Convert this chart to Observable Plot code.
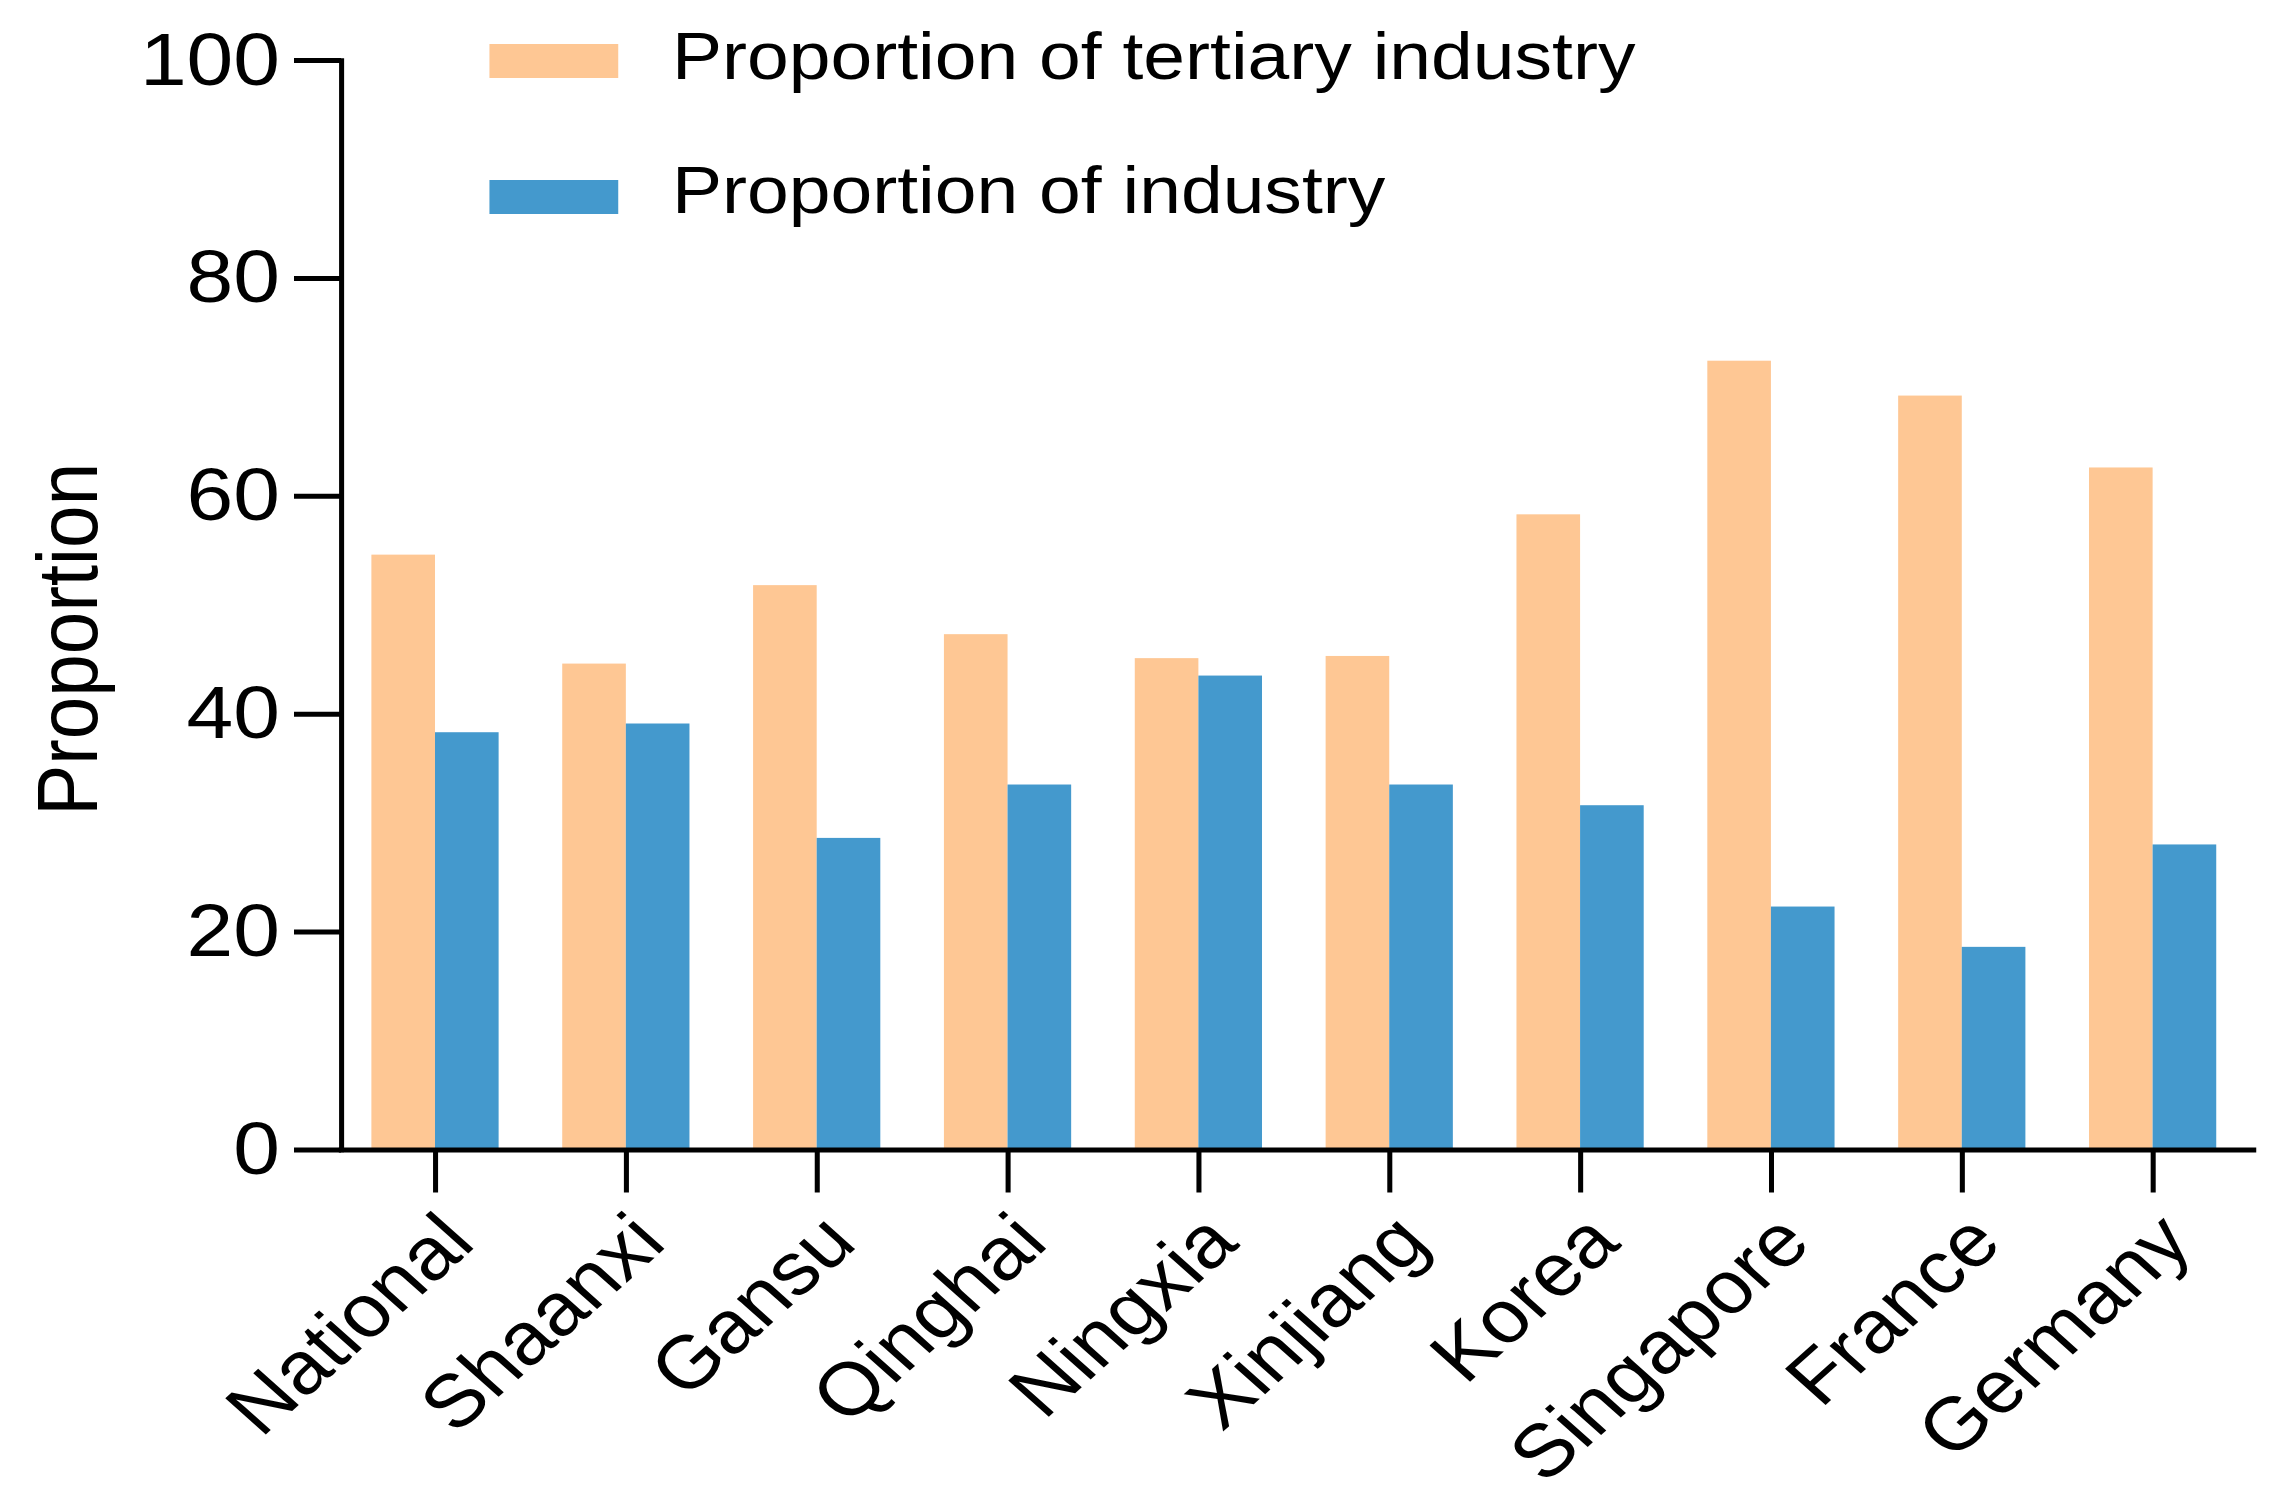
<!DOCTYPE html>
<html>
<head>
<meta charset="utf-8">
<script src="https://cdn.jsdelivr.net/npm/d3@7"></script>
<script src="https://cdn.jsdelivr.net/npm/@observablehq/plot@0.6"></script>
<style>
  html, body { margin: 0; padding: 0; background: #fff; }
  #wrap {
    position: relative; width: 2039px; height: 1499px;
    transform: scaleX(1.12); transform-origin: 0 0;
    font-family: "Liberation Sans", Arial, sans-serif; color: #000;
  }
  .sw { position: absolute; left: 437px; width: 115px; height: 34px; }
  .lt { position: absolute; left: 600px; font-size: 67px; line-height: 67px; white-space: nowrap; color: #000; }
</style>
</head>
<body>
<div id="wrap"></div>
<script>
// ---- data ----
const categories = ["National", "Shaanxi", "Gansu", "Qinghai", "Ningxia", "Xinjiang", "Korea", "Singapore", "France", "Germany"];
const seriesNames = ["Proportion of tertiary industry", "Proportion of industry"];
const tertiary = [54.6, 44.6, 51.8, 47.3, 45.1, 45.3, 58.3, 72.4, 69.2, 62.6];
const industry = [38.3, 39.1, 28.6, 33.5, 43.5, 33.5, 31.6, 22.3, 18.6, 28.0];
const seriesColors = ["#FEC794", "#4499CD"];
const yTicks = [0, 20, 40, 60, 80, 100];
const yLabel = "Proportion";

// ---- layout ----
const W = 2039, H = 1499, mL = 304.5, mR = 27.5, mT = 60, mB = 349.5;
const pInner = 1 / 3, pOuter = 0.1755, align = 0.453;
const bw = d3.scaleBand().domain(categories).range([mL, W - mR])
  .paddingInner(pInner).paddingOuter(pOuter).align(align).bandwidth();

const data = categories.flatMap((c, i) => [
  {category: c, series: seriesNames[0], value: tertiary[i]},
  {category: c, series: seriesNames[1], value: industry[i]}
]);

const plot = Plot.plot({
  width: W, height: H,
  marginLeft: mL, marginRight: mR, marginTop: mT, marginBottom: mB,
  style: {fontFamily: '"Liberation Sans", Arial, sans-serif', background: "white", color: "black", overflow: "visible"},
  x: {domain: categories, paddingInner: pInner, paddingOuter: pOuter, align: align, round: false, label: null, axis: null},
  y: {domain: [0, 100], label: null, axis: null},
  color: {domain: seriesNames, range: seriesColors},
  marks: [
    Plot.barY(data.filter(d => d.series === seriesNames[0]), {x: "category", y: "value", fill: "series", insetRight: bw / 2}),
    Plot.barY(data.filter(d => d.series === seriesNames[1]), {x: "category", y: "value", fill: "series", insetLeft: bw / 2}),
    Plot.frame({anchor: "left", stroke: "black", strokeWidth: 4.5}),
    Plot.frame({anchor: "bottom", stroke: "black", strokeWidth: 5}),
    Plot.axisY({ticks: yTicks, tickSize: 42, tickPadding: 13, fontSize: 75, strokeWidth: 5, label: null}),
    Plot.axisX({tickSize: 43, tickPadding: 15, tickRotate: -45, fontSize: 74.5, strokeWidth: 4.5, label: null, textAnchor: "end", lineAnchor: "top"}),
    Plot.text([yLabel], {text: d => d, frameAnchor: "left", textAnchor: "middle", rotate: -90, dx: 86.3 - mL, dy: 34, fontSize: 76.5, lineAnchor: "bottom", fill: "black"})
  ]
});

const wrap = document.getElementById("wrap");
wrap.appendChild(plot);

// ---- legend (inside plot area, top) ----
const swTops = [44, 179.5];
const textTops = [22, 156];
seriesNames.forEach((name, i) => {
  const sw = document.createElement("div");
  sw.className = "sw";
  sw.style.top = swTops[i] + "px";
  sw.style.background = seriesColors[i];
  wrap.appendChild(sw);
  const t = document.createElement("div");
  t.className = "lt";
  t.style.top = textTops[i] + "px";
  t.textContent = name;
  wrap.appendChild(t);
});
</script>
</body>
</html>
